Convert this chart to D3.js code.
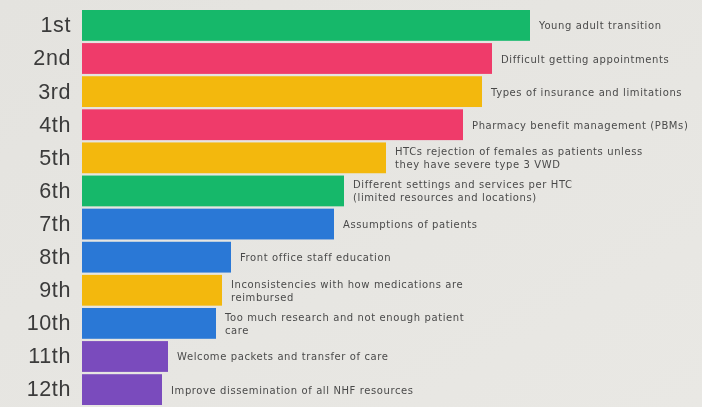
<!DOCTYPE html>
<html>
<head>
<meta charset="utf-8">
<script src="https://cdn.jsdelivr.net/npm/d3@7"></script>
<style>
  html, body { margin: 0; padding: 0; background: #e6e5e1; }
  svg { display: block; }
</style>
</head>
<body>
<svg id="chart" width="702" height="407"></svg>
<script>
// Ranked issues, longest bar = top priority
const ranks = ["1st","2nd","3rd","4th","5th","6th","7th","8th","9th","10th","11th","12th"];
const scores = [448, 410, 400, 381, 304, 262, 252, 149, 140, 134, 86, 80];
const issues = [
  ["Young adult transition"],
  ["Difficult getting appointments"],
  ["Types of insurance and limitations"],
  ["Pharmacy benefit management (PBMs)"],
  ["HTCs rejection of females as patients unless", "they have severe type 3 VWD"],
  ["Different settings and services per HTC", "(limited resources and locations)"],
  ["Assumptions of patients"],
  ["Front office staff education"],
  ["Inconsistencies with how medications are", "reimbursed"],
  ["Too much research and not enough patient", "care"],
  ["Welcome packets and transfer of care"],
  ["Improve dissemination of all NHF resources"]
];
const colorGroup = ["green","pink","yellow","pink","yellow","green","blue","blue","yellow","blue","purple","purple"];
const palette = { green: "#15b86a", pink: "#ef3a6b", yellow: "#f3b80d", blue: "#2a78d6", purple: "#7a4bbd" };

const W = 702, H = 407;
const margin = { top: 10, right: 20, bottom: 2, left: 82 };

const svg = d3.select("#chart");

// soft background tone
const defs = svg.append("defs");
const bg = defs.append("linearGradient").attr("id", "bg").attr("x1", 0).attr("x2", 1).attr("y1", 0).attr("y2", 1);
bg.append("stop").attr("offset", "0%").attr("stop-color", "#e4e3df");
bg.append("stop").attr("offset", "100%").attr("stop-color", "#e9e8e4");
defs.append("filter").attr("id", "soft").append("feGaussianBlur").attr("stdDeviation", 0.45);

svg.append("rect").attr("width", W).attr("height", H).attr("fill", "url(#bg)");

const g = svg.append("g").attr("filter", "url(#soft)");

const y = d3.scaleBand().domain(ranks).range([margin.top, H - margin.bottom]).paddingInner(0.07).paddingOuter(0);
const x = d3.scaleLinear().domain([0, 448]).range([margin.left, margin.left + 448]);

const rows = ranks.map((r, i) => ({ rank: r, score: scores[i], lines: issues[i], color: palette[colorGroup[i]] }));

g.selectAll("rect.bar").data(rows).join("rect")
  .attr("class", "bar")
  .attr("x", x(0))
  .attr("y", d => y(d.rank))
  .attr("width", d => x(d.score) - x(0))
  .attr("height", y.bandwidth())
  .attr("fill", d => d.color);

// rank labels via a left axis
const axis = g.append("g")
  .attr("transform", `translate(${margin.left - 11},0)`)
  .call(d3.axisLeft(y).tickSize(0).tickPadding(0));
axis.select(".domain").remove();
axis.selectAll("text")
  .attr("font-family", "Liberation Sans, Arial, sans-serif")
  .attr("font-size", 21.5)
  .attr("letter-spacing", 0.6)
  .attr("fill", "#3a3a3a");

// issue descriptions beside each bar
const labels = g.selectAll("text.issue").data(rows).join("text")
  .attr("class", "issue")
  .attr("font-family", "'DejaVu Sans', sans-serif")
  .attr("font-size", 10)
  .attr("letter-spacing", 0.6)
  .attr("fill", "#4a4a4a")
  .attr("x", d => x(d.score) + 9)
  .attr("y", d => y(d.rank) + y.bandwidth() / 2 - (d.lines.length - 1) * 6.5)
  .attr("dominant-baseline", "central");
labels.selectAll("tspan").data(d => d.lines.map(t => ({ t, x: x(d.score) + 9 }))).join("tspan")
  .attr("x", l => l.x)
  .attr("dy", (l, i) => i === 0 ? 0 : 13)
  .text(l => l.t);
</script>
</body>
</html>
